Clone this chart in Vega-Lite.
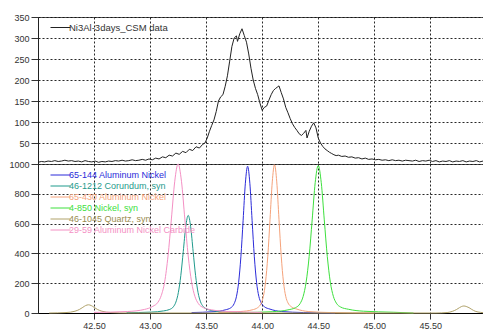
{
  "$schema": "https://vega.github.io/schema/vega-lite/v6.json",
  "padding": {"left": 7, "top": 12, "right": 0, "bottom": 0},
  "background": "white",
  "spacing": 0,
  "bounds": "flush",
  "config": {
    "view": {"stroke": "#555", "strokeWidth": 1},
    "font": "Liberation Sans",
    "axis": {
      "labelFont": "Liberation Sans",
      "labelFontSize": 9,
      "labelColor": "#333",
      "tickColor": "#333",
      "domainColor": "#222",
      "gridColor": "#111",
      "gridDash": [2, 2],
      "gridOpacity": 0.9,
      "gridWidth": 1,
      "title": null
    },
    "legend": {
      "labelFont": "Liberation Sans",
      "padding": 0,
      "symbolType": "M-2,0H2",
      "symbolStrokeWidth": 1,
      "symbolFillColor": "transparent",
      "title": null
    }
  },
  "datasets": {
    "top": [
      {"s":"Ni3Al-3days_CSM data","t":42.00,"v":4},{"s":"Ni3Al-3days_CSM data","t":42.03,"v":6},{"s":"Ni3Al-3days_CSM data","t":42.06,"v":5},{"s":"Ni3Al-3days_CSM data","t":42.09,"v":7},{"s":"Ni3Al-3days_CSM data","t":42.12,"v":6},{"s":"Ni3Al-3days_CSM data","t":42.15,"v":8},{"s":"Ni3Al-3days_CSM data","t":42.18,"v":6},{"s":"Ni3Al-3days_CSM data","t":42.21,"v":7},{"s":"Ni3Al-3days_CSM data","t":42.24,"v":9},{"s":"Ni3Al-3days_CSM data","t":42.27,"v":7},{"s":"Ni3Al-3days_CSM data","t":42.30,"v":8},{"s":"Ni3Al-3days_CSM data","t":42.33,"v":6},{"s":"Ni3Al-3days_CSM data","t":42.36,"v":7},{"s":"Ni3Al-3days_CSM data","t":42.39,"v":5},{"s":"Ni3Al-3days_CSM data","t":42.42,"v":8},{"s":"Ni3Al-3days_CSM data","t":42.45,"v":6},{"s":"Ni3Al-3days_CSM data","t":42.48,"v":5},{"s":"Ni3Al-3days_CSM data","t":42.51,"v":7},{"s":"Ni3Al-3days_CSM data","t":42.54,"v":4},{"s":"Ni3Al-3days_CSM data","t":42.57,"v":6},{"s":"Ni3Al-3days_CSM data","t":42.60,"v":5},{"s":"Ni3Al-3days_CSM data","t":42.63,"v":7},{"s":"Ni3Al-3days_CSM data","t":42.66,"v":6},{"s":"Ni3Al-3days_CSM data","t":42.69,"v":8},{"s":"Ni3Al-3days_CSM data","t":42.72,"v":7},{"s":"Ni3Al-3days_CSM data","t":42.75,"v":9},{"s":"Ni3Al-3days_CSM data","t":42.78,"v":7},{"s":"Ni3Al-3days_CSM data","t":42.81,"v":8},{"s":"Ni3Al-3days_CSM data","t":42.84,"v":10},{"s":"Ni3Al-3days_CSM data","t":42.87,"v":8},{"s":"Ni3Al-3days_CSM data","t":42.90,"v":9},{"s":"Ni3Al-3days_CSM data","t":42.93,"v":11},{"s":"Ni3Al-3days_CSM data","t":42.96,"v":9},{"s":"Ni3Al-3days_CSM data","t":42.99,"v":12},{"s":"Ni3Al-3days_CSM data","t":43.02,"v":10},{"s":"Ni3Al-3days_CSM data","t":43.05,"v":14},{"s":"Ni3Al-3days_CSM data","t":43.08,"v":12},{"s":"Ni3Al-3days_CSM data","t":43.11,"v":17},{"s":"Ni3Al-3days_CSM data","t":43.14,"v":15},{"s":"Ni3Al-3days_CSM data","t":43.17,"v":21},{"s":"Ni3Al-3days_CSM data","t":43.20,"v":19},{"s":"Ni3Al-3days_CSM data","t":43.23,"v":26},{"s":"Ni3Al-3days_CSM data","t":43.26,"v":23},{"s":"Ni3Al-3days_CSM data","t":43.29,"v":30},{"s":"Ni3Al-3days_CSM data","t":43.32,"v":27},{"s":"Ni3Al-3days_CSM data","t":43.35,"v":35},{"s":"Ni3Al-3days_CSM data","t":43.38,"v":32},{"s":"Ni3Al-3days_CSM data","t":43.41,"v":41},{"s":"Ni3Al-3days_CSM data","t":43.44,"v":38},{"s":"Ni3Al-3days_CSM data","t":43.47,"v":47},{"s":"Ni3Al-3days_CSM data","t":43.49,"v":50},{"s":"Ni3Al-3days_CSM data","t":43.51,"v":62},{"s":"Ni3Al-3days_CSM data","t":43.53,"v":78},{"s":"Ni3Al-3days_CSM data","t":43.55,"v":92},{"s":"Ni3Al-3days_CSM data","t":43.57,"v":105},{"s":"Ni3Al-3days_CSM data","t":43.59,"v":125},{"s":"Ni3Al-3days_CSM data","t":43.61,"v":150},{"s":"Ni3Al-3days_CSM data","t":43.63,"v":160},{"s":"Ni3Al-3days_CSM data","t":43.65,"v":165},{"s":"Ni3Al-3days_CSM data","t":43.67,"v":185},{"s":"Ni3Al-3days_CSM data","t":43.69,"v":210},{"s":"Ni3Al-3days_CSM data","t":43.71,"v":245},{"s":"Ni3Al-3days_CSM data","t":43.73,"v":280},{"s":"Ni3Al-3days_CSM data","t":43.75,"v":300},{"s":"Ni3Al-3days_CSM data","t":43.77,"v":305},{"s":"Ni3Al-3days_CSM data","t":43.78,"v":292},{"s":"Ni3Al-3days_CSM data","t":43.80,"v":310},{"s":"Ni3Al-3days_CSM data","t":43.82,"v":322},{"s":"Ni3Al-3days_CSM data","t":43.84,"v":306},{"s":"Ni3Al-3days_CSM data","t":43.86,"v":290},{"s":"Ni3Al-3days_CSM data","t":43.88,"v":262},{"s":"Ni3Al-3days_CSM data","t":43.90,"v":228},{"s":"Ni3Al-3days_CSM data","t":43.92,"v":200},{"s":"Ni3Al-3days_CSM data","t":43.94,"v":180},{"s":"Ni3Al-3days_CSM data","t":43.96,"v":165},{"s":"Ni3Al-3days_CSM data","t":43.98,"v":145},{"s":"Ni3Al-3days_CSM data","t":44.00,"v":128},{"s":"Ni3Al-3days_CSM data","t":44.02,"v":135},{"s":"Ni3Al-3days_CSM data","t":44.04,"v":138},{"s":"Ni3Al-3days_CSM data","t":44.06,"v":152},{"s":"Ni3Al-3days_CSM data","t":44.08,"v":165},{"s":"Ni3Al-3days_CSM data","t":44.10,"v":175},{"s":"Ni3Al-3days_CSM data","t":44.12,"v":180},{"s":"Ni3Al-3days_CSM data","t":44.14,"v":184},{"s":"Ni3Al-3days_CSM data","t":44.15,"v":186},{"s":"Ni3Al-3days_CSM data","t":44.17,"v":170},{"s":"Ni3Al-3days_CSM data","t":44.19,"v":155},{"s":"Ni3Al-3days_CSM data","t":44.21,"v":135},{"s":"Ni3Al-3days_CSM data","t":44.23,"v":122},{"s":"Ni3Al-3days_CSM data","t":44.25,"v":108},{"s":"Ni3Al-3days_CSM data","t":44.27,"v":96},{"s":"Ni3Al-3days_CSM data","t":44.29,"v":87},{"s":"Ni3Al-3days_CSM data","t":44.31,"v":80},{"s":"Ni3Al-3days_CSM data","t":44.33,"v":72},{"s":"Ni3Al-3days_CSM data","t":44.35,"v":68},{"s":"Ni3Al-3days_CSM data","t":44.37,"v":73},{"s":"Ni3Al-3days_CSM data","t":44.39,"v":80},{"s":"Ni3Al-3days_CSM data","t":44.40,"v":62},{"s":"Ni3Al-3days_CSM data","t":44.42,"v":78},{"s":"Ni3Al-3days_CSM data","t":44.44,"v":90},{"s":"Ni3Al-3days_CSM data","t":44.46,"v":98},{"s":"Ni3Al-3days_CSM data","t":44.48,"v":86},{"s":"Ni3Al-3days_CSM data","t":44.50,"v":62},{"s":"Ni3Al-3days_CSM data","t":44.52,"v":50},{"s":"Ni3Al-3days_CSM data","t":44.54,"v":42},{"s":"Ni3Al-3days_CSM data","t":44.56,"v":36},{"s":"Ni3Al-3days_CSM data","t":44.58,"v":32},{"s":"Ni3Al-3days_CSM data","t":44.60,"v":28},{"s":"Ni3Al-3days_CSM data","t":44.62,"v":25},{"s":"Ni3Al-3days_CSM data","t":44.64,"v":22},{"s":"Ni3Al-3days_CSM data","t":44.66,"v":20},{"s":"Ni3Al-3days_CSM data","t":44.68,"v":21},{"s":"Ni3Al-3days_CSM data","t":44.71,"v":18},{"s":"Ni3Al-3days_CSM data","t":44.74,"v":19},{"s":"Ni3Al-3days_CSM data","t":44.77,"v":16},{"s":"Ni3Al-3days_CSM data","t":44.80,"v":17},{"s":"Ni3Al-3days_CSM data","t":44.83,"v":14},{"s":"Ni3Al-3days_CSM data","t":44.86,"v":15},{"s":"Ni3Al-3days_CSM data","t":44.89,"v":12},{"s":"Ni3Al-3days_CSM data","t":44.92,"v":14},{"s":"Ni3Al-3days_CSM data","t":44.95,"v":11},{"s":"Ni3Al-3days_CSM data","t":44.98,"v":12},{"s":"Ni3Al-3days_CSM data","t":45.01,"v":10},{"s":"Ni3Al-3days_CSM data","t":45.04,"v":11},{"s":"Ni3Al-3days_CSM data","t":45.07,"v":9},{"s":"Ni3Al-3days_CSM data","t":45.10,"v":10},{"s":"Ni3Al-3days_CSM data","t":45.13,"v":8},{"s":"Ni3Al-3days_CSM data","t":45.16,"v":10},{"s":"Ni3Al-3days_CSM data","t":45.19,"v":8},{"s":"Ni3Al-3days_CSM data","t":45.22,"v":9},{"s":"Ni3Al-3days_CSM data","t":45.25,"v":7},{"s":"Ni3Al-3days_CSM data","t":45.28,"v":9},{"s":"Ni3Al-3days_CSM data","t":45.31,"v":8},{"s":"Ni3Al-3days_CSM data","t":45.34,"v":7},{"s":"Ni3Al-3days_CSM data","t":45.37,"v":9},{"s":"Ni3Al-3days_CSM data","t":45.40,"v":6},{"s":"Ni3Al-3days_CSM data","t":45.43,"v":8},{"s":"Ni3Al-3days_CSM data","t":45.46,"v":7},{"s":"Ni3Al-3days_CSM data","t":45.49,"v":9},{"s":"Ni3Al-3days_CSM data","t":45.52,"v":6},{"s":"Ni3Al-3days_CSM data","t":45.55,"v":8},{"s":"Ni3Al-3days_CSM data","t":45.58,"v":5},{"s":"Ni3Al-3days_CSM data","t":45.61,"v":7},{"s":"Ni3Al-3days_CSM data","t":45.64,"v":6},{"s":"Ni3Al-3days_CSM data","t":45.67,"v":8},{"s":"Ni3Al-3days_CSM data","t":45.70,"v":5},{"s":"Ni3Al-3days_CSM data","t":45.73,"v":7},{"s":"Ni3Al-3days_CSM data","t":45.76,"v":6},{"s":"Ni3Al-3days_CSM data","t":45.79,"v":8},{"s":"Ni3Al-3days_CSM data","t":45.82,"v":5},{"s":"Ni3Al-3days_CSM data","t":45.85,"v":7},{"s":"Ni3Al-3days_CSM data","t":45.88,"v":6},{"s":"Ni3Al-3days_CSM data","t":45.91,"v":8},{"s":"Ni3Al-3days_CSM data","t":45.94,"v":5},{"s":"Ni3Al-3days_CSM data","t":45.97,"v":7}
    ],
    "refs": [
      {"s":"65-144 Aluminum Nickel","t":43.37,"v":3},{"s":"65-144 Aluminum Nickel","t":43.57,"v":9},{"s":"65-144 Aluminum Nickel","t":43.67,"v":21},{"s":"65-144 Aluminum Nickel","t":43.72,"v":35},{"s":"65-144 Aluminum Nickel","t":43.75,"v":63},{"s":"65-144 Aluminum Nickel","t":43.77,"v":109},{"s":"65-144 Aluminum Nickel","t":43.79,"v":206},{"s":"65-144 Aluminum Nickel","t":43.81,"v":377},{"s":"65-144 Aluminum Nickel","t":43.83,"v":622},{"s":"65-144 Aluminum Nickel","t":43.85,"v":871},{"s":"65-144 Aluminum Nickel","t":43.87,"v":985},{"s":"65-144 Aluminum Nickel","t":43.89,"v":871},{"s":"65-144 Aluminum Nickel","t":43.91,"v":622},{"s":"65-144 Aluminum Nickel","t":43.93,"v":377},{"s":"65-144 Aluminum Nickel","t":43.95,"v":206},{"s":"65-144 Aluminum Nickel","t":43.97,"v":112},{"s":"65-144 Aluminum Nickel","t":43.99,"v":70},{"s":"65-144 Aluminum Nickel","t":44.02,"v":42},{"s":"65-144 Aluminum Nickel","t":44.07,"v":26},{"s":"65-144 Aluminum Nickel","t":44.17,"v":10},{"s":"65-144 Aluminum Nickel","t":44.37,"v":3},{"s":"65-144 Aluminum Nickel","t":44.65,"v":0},
      {"s":"46-1212 Corundum, syn","t":42.79,"v":2},{"s":"46-1212 Corundum, syn","t":43.01,"v":6},{"s":"46-1212 Corundum, syn","t":43.12,"v":14},{"s":"46-1212 Corundum, syn","t":43.175,"v":24},{"s":"46-1212 Corundum, syn","t":43.208,"v":42},{"s":"46-1212 Corundum, syn","t":43.23,"v":73},{"s":"46-1212 Corundum, syn","t":43.252,"v":137},{"s":"46-1212 Corundum, syn","t":43.274,"v":251},{"s":"46-1212 Corundum, syn","t":43.296,"v":413},{"s":"46-1212 Corundum, syn","t":43.318,"v":579},{"s":"46-1212 Corundum, syn","t":43.34,"v":655},{"s":"46-1212 Corundum, syn","t":43.362,"v":579},{"s":"46-1212 Corundum, syn","t":43.384,"v":413},{"s":"46-1212 Corundum, syn","t":43.406,"v":251},{"s":"46-1212 Corundum, syn","t":43.428,"v":137},{"s":"46-1212 Corundum, syn","t":43.45,"v":75},{"s":"46-1212 Corundum, syn","t":43.472,"v":45},{"s":"46-1212 Corundum, syn","t":43.505,"v":27},{"s":"46-1212 Corundum, syn","t":43.56,"v":15},{"s":"46-1212 Corundum, syn","t":43.67,"v":6},{"s":"46-1212 Corundum, syn","t":43.89,"v":2},
      {"s":"65-430 Aluminum Nickel","t":43.61,"v":3},{"s":"65-430 Aluminum Nickel","t":43.81,"v":10},{"s":"65-430 Aluminum Nickel","t":43.91,"v":21},{"s":"65-430 Aluminum Nickel","t":43.96,"v":36},{"s":"65-430 Aluminum Nickel","t":43.99,"v":64},{"s":"65-430 Aluminum Nickel","t":44.01,"v":110},{"s":"65-430 Aluminum Nickel","t":44.03,"v":208},{"s":"65-430 Aluminum Nickel","t":44.05,"v":381},{"s":"65-430 Aluminum Nickel","t":44.07,"v":628},{"s":"65-430 Aluminum Nickel","t":44.09,"v":880},{"s":"65-430 Aluminum Nickel","t":44.11,"v":995},{"s":"65-430 Aluminum Nickel","t":44.13,"v":880},{"s":"65-430 Aluminum Nickel","t":44.15,"v":628},{"s":"65-430 Aluminum Nickel","t":44.17,"v":381},{"s":"65-430 Aluminum Nickel","t":44.19,"v":208},{"s":"65-430 Aluminum Nickel","t":44.21,"v":112},{"s":"65-430 Aluminum Nickel","t":44.23,"v":68},{"s":"65-430 Aluminum Nickel","t":44.26,"v":42},{"s":"65-430 Aluminum Nickel","t":44.31,"v":26},{"s":"65-430 Aluminum Nickel","t":44.41,"v":10},{"s":"65-430 Aluminum Nickel","t":44.61,"v":3},{"s":"65-430 Aluminum Nickel","t":45.0,"v":0},
      {"s":"4-850 Nickel, syn","t":43.825,"v":3},{"s":"4-850 Nickel, syn","t":44.095,"v":9},{"s":"4-850 Nickel, syn","t":44.23,"v":21},{"s":"4-850 Nickel, syn","t":44.2975,"v":36},{"s":"4-850 Nickel, syn","t":44.338,"v":63},{"s":"4-850 Nickel, syn","t":44.365,"v":110},{"s":"4-850 Nickel, syn","t":44.392,"v":207},{"s":"4-850 Nickel, syn","t":44.419,"v":379},{"s":"4-850 Nickel, syn","t":44.446,"v":625},{"s":"4-850 Nickel, syn","t":44.473,"v":875},{"s":"4-850 Nickel, syn","t":44.50,"v":990},{"s":"4-850 Nickel, syn","t":44.527,"v":875},{"s":"4-850 Nickel, syn","t":44.554,"v":625},{"s":"4-850 Nickel, syn","t":44.581,"v":379},{"s":"4-850 Nickel, syn","t":44.608,"v":207},{"s":"4-850 Nickel, syn","t":44.635,"v":112},{"s":"4-850 Nickel, syn","t":44.662,"v":66},{"s":"4-850 Nickel, syn","t":44.70,"v":40},{"s":"4-850 Nickel, syn","t":44.77,"v":25},{"s":"4-850 Nickel, syn","t":44.905,"v":12},{"s":"4-850 Nickel, syn","t":45.175,"v":5},{"s":"4-850 Nickel, syn","t":45.35,"v":0},
      {"s":"46-1045 Quartz, syn","t":42.10,"v":0},{"s":"46-1045 Quartz, syn","t":42.25,"v":3},{"s":"46-1045 Quartz, syn","t":42.33,"v":12},{"s":"46-1045 Quartz, syn","t":42.37,"v":24},{"s":"46-1045 Quartz, syn","t":42.40,"v":38},{"s":"46-1045 Quartz, syn","t":42.425,"v":50},{"s":"46-1045 Quartz, syn","t":42.45,"v":55},{"s":"46-1045 Quartz, syn","t":42.475,"v":50},{"s":"46-1045 Quartz, syn","t":42.50,"v":38},{"s":"46-1045 Quartz, syn","t":42.53,"v":24},{"s":"46-1045 Quartz, syn","t":42.57,"v":12},{"s":"46-1045 Quartz, syn","t":42.65,"v":3},{"s":"46-1045 Quartz, syn","t":42.80,"v":0},{"s":"46-1045 Quartz, syn","t":45.55,"v":0},{"s":"46-1045 Quartz, syn","t":45.65,"v":3},{"s":"46-1045 Quartz, syn","t":45.70,"v":12},{"s":"46-1045 Quartz, syn","t":45.735,"v":24},{"s":"46-1045 Quartz, syn","t":45.76,"v":36},{"s":"46-1045 Quartz, syn","t":45.78,"v":44},{"s":"46-1045 Quartz, syn","t":45.80,"v":47},{"s":"46-1045 Quartz, syn","t":45.82,"v":44},{"s":"46-1045 Quartz, syn","t":45.845,"v":36},{"s":"46-1045 Quartz, syn","t":45.87,"v":24},{"s":"46-1045 Quartz, syn","t":45.90,"v":12},{"s":"46-1045 Quartz, syn","t":45.95,"v":4},{"s":"46-1045 Quartz, syn","t":45.97,"v":2},
      {"s":"29-59 Aluminum Nickel Carbide","t":42.50,"v":4},{"s":"29-59 Aluminum Nickel Carbide","t":42.80,"v":10},{"s":"29-59 Aluminum Nickel Carbide","t":42.95,"v":24},{"s":"29-59 Aluminum Nickel Carbide","t":43.025,"v":45},{"s":"29-59 Aluminum Nickel Carbide","t":43.07,"v":72},{"s":"29-59 Aluminum Nickel Carbide","t":43.10,"v":118},{"s":"29-59 Aluminum Nickel Carbide","t":43.13,"v":209},{"s":"29-59 Aluminum Nickel Carbide","t":43.16,"v":383},{"s":"29-59 Aluminum Nickel Carbide","t":43.19,"v":631},{"s":"29-59 Aluminum Nickel Carbide","t":43.22,"v":884},{"s":"29-59 Aluminum Nickel Carbide","t":43.25,"v":1000},{"s":"29-59 Aluminum Nickel Carbide","t":43.28,"v":884},{"s":"29-59 Aluminum Nickel Carbide","t":43.31,"v":631},{"s":"29-59 Aluminum Nickel Carbide","t":43.34,"v":383},{"s":"29-59 Aluminum Nickel Carbide","t":43.37,"v":209},{"s":"29-59 Aluminum Nickel Carbide","t":43.40,"v":111},{"s":"29-59 Aluminum Nickel Carbide","t":43.43,"v":64},{"s":"29-59 Aluminum Nickel Carbide","t":43.475,"v":36},{"s":"29-59 Aluminum Nickel Carbide","t":43.55,"v":21},{"s":"29-59 Aluminum Nickel Carbide","t":43.70,"v":10},{"s":"29-59 Aluminum Nickel Carbide","t":44.00,"v":4}
    ]
  },
  "resolve": {
    "scale": {"color": "independent", "y": "independent"},
    "legend": {"color": "independent"},
    "axis": {"x": "independent", "y": "independent"}
  },
  "vconcat": [
    {
      "width": 445,
      "height": 147,
      "data": {"name": "top"},
      "mark": {"type": "line", "strokeWidth": 1},
      "encoding": {
        "x": {
          "field": "t", "type": "quantitative",
          "scale": {"domain": [42, 45.97], "nice": false, "zero": false},
          "axis": {"values": [42.5, 43, 43.5, 44, 44.5, 45, 45.5], "labels": false, "ticks": false, "domain": false, "grid": true, "minExtent": 0, "maxExtent": 0}
        },
        "y": {
          "field": "v", "type": "quantitative",
          "scale": {"domain": [0, 350], "nice": false},
          "axis": {"values": [50, 100, 150, 200, 250, 300, 350], "format": "d", "tickSize": 7, "labelPadding": 2, "minExtent": 30, "maxExtent": 30, "grid": true}
        },
        "color": {
          "field": "s", "type": "nominal",
          "scale": {"range": ["#222222"]},
          "legend": {"orient": "none", "legendX": 17, "legendY": 5, "symbolSize": 100, "symbolStrokeColor": "#222222", "labelFontSize": 9.5, "labelColor": "#333", "labelOffset": 3}
        }
      }
    },
    {
      "width": 445,
      "height": 149,
      "data": {"name": "refs"},
      "mark": {"type": "line", "strokeWidth": 1, "interpolate": "monotone"},
      "encoding": {
        "x": {
          "field": "t", "type": "quantitative",
          "scale": {"domain": [42, 45.97], "nice": false, "zero": false},
          "axis": {"values": [42.5, 43, 43.5, 44, 44.5, 45, 45.5], "format": ".2f", "tickSize": 6, "labelPadding": 2, "grid": true, "domainColor": "#000"}
        },
        "y": {
          "field": "v", "type": "quantitative",
          "scale": {"domain": [0, 1000], "nice": false},
          "axis": {"values": [0, 200, 400, 600, 800, 1000], "format": "d", "tickSize": 7, "labelPadding": 2, "minExtent": 30, "maxExtent": 30, "grid": true}
        },
        "color": {
          "field": "s", "type": "nominal",
          "scale": {
            "domain": ["65-144 Aluminum Nickel", "46-1212 Corundum, syn", "65-430 Aluminum Nickel", "4-850 Nickel, syn", "46-1045 Quartz, syn", "29-59 Aluminum Nickel Carbide"],
            "range": ["#2b2bd9", "#1f9a8c", "#f5a27a", "#3de03d", "#b0a26a", "#f490c4"]
          },
          "legend": {
            "orient": "none", "legendX": 17, "legendY": 5.5, "symbolSize": 100, "labelFontSize": 9, "labelOffset": 3, "rowPadding": 0,
            "symbolStrokeColor": {"expr": "indexof(datum.label,'65-144')==0 ? '#2b2bd9' : indexof(datum.label,'46-1212')==0 ? '#1f9a8c' : indexof(datum.label,'65-430')==0 ? '#f5a27a' : indexof(datum.label,'4-850')==0 ? '#3de03d' : indexof(datum.label,'46-1045')==0 ? '#b0a26a' : '#f490c4'"},
            "labelColor": {"expr": "indexof(datum.label,'65-144')==0 ? '#2b2bd9' : indexof(datum.label,'46-1212')==0 ? '#1f9a8c' : indexof(datum.label,'65-430')==0 ? '#f5a27a' : indexof(datum.label,'4-850')==0 ? '#3de03d' : indexof(datum.label,'46-1045')==0 ? '#9a8c50' : '#f490c4'"}
          }
        }
      }
    }
  ]
}
